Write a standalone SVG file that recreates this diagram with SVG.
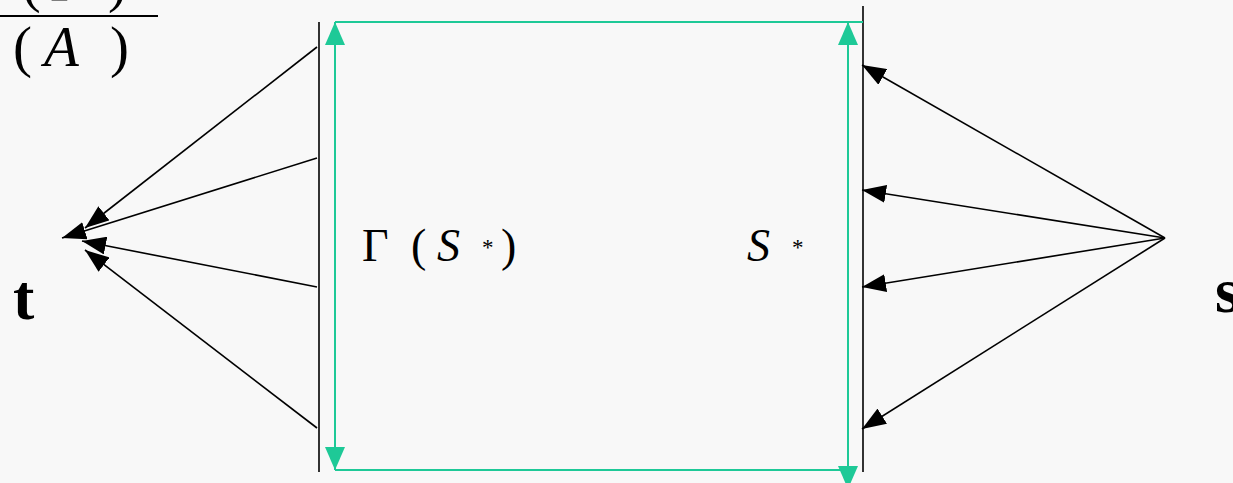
<svg xmlns="http://www.w3.org/2000/svg" width="1233" height="483" viewBox="0 0 1233 483">
  <style>
    .blk { stroke: #000; stroke-width: 1.6; fill: none; }
    .grn { stroke: #1ec997; stroke-width: 2; fill: none; }
    .serif { font-family: "Liberation Serif", "Times New Roman", serif; fill: #000; }
    .it { font-style: italic; }
    .bold { font-weight: bold; }
  </style>
  <defs>
    <marker id="ah" viewBox="0 0 24 18" refX="24" refY="9" markerWidth="24" markerHeight="18" markerUnits="userSpaceOnUse" orient="auto">
      <path d="M0,0 L24,9 L0,18 z" fill="#000"/>
    </marker>
    <marker id="gh" viewBox="0 0 23 20" refX="23" refY="10" markerWidth="23" markerHeight="20" markerUnits="userSpaceOnUse" orient="auto-start-reverse">
      <path d="M0,0 L23,10 L0,20 z" fill="#1ec997"/>
    </marker>
  </defs>
  <rect width="1233" height="483" fill="#f8f8f8"/>

  <g id="fraction">
    <text class="serif" x="22" y="1" font-size="56">(</text>
    <text class="serif" x="50" y="1" font-size="56">Γ</text>
    <text class="serif" x="108" y="1" font-size="56">)</text>
    <line x1="0" y1="16" x2="158" y2="16" stroke="#000" stroke-width="2.2"/>
    <text class="serif" x="13" y="66" font-size="57">(</text>
    <text class="serif it" x="44" y="66" font-size="57">A</text>
    <text class="serif" x="110" y="66" font-size="57">)</text>
  </g>

  <g id="node-t">
    <text class="serif bold" x="13" y="319" font-size="64">t</text>
  </g>
  <g id="node-s">
    <text class="serif bold" x="1215" y="312" font-size="64">s</text>
  </g>

  <g id="node-gamma-s">
    <line class="blk" x1="319" y1="22" x2="319" y2="472"/>
    <text class="serif" x="362" y="261" font-size="46">Γ</text>
    <text class="serif" x="411" y="261" font-size="46">(</text>
    <text class="serif it" x="437" y="261" font-size="46">S</text>
    <text class="serif" x="482" y="255" font-size="23">*</text>
    <text class="serif" x="501" y="261" font-size="46">)</text>
  </g>

  <g id="node-s-star">
    <line class="blk" x1="863" y1="6" x2="863" y2="472"/>
    <text class="serif it" x="747" y="261" font-size="46">S</text>
    <text class="serif" x="792" y="255" font-size="23">*</text>
  </g>

  <g id="connectors">
    <line class="grn" x1="335" y1="22" x2="863" y2="22"/>
    <line class="grn" x1="335" y1="470" x2="848" y2="470"/>
    <path class="grn" d="M335,470 L335,22" marker-start="url(#gh)" marker-end="url(#gh)"/>
    <path class="grn" d="M848,489 L848,22" marker-start="url(#gh)" marker-end="url(#gh)"/>

    <line class="blk" x1="317" y1="47" x2="85" y2="228" marker-end="url(#ah)"/>
    <line class="blk" x1="317" y1="158" x2="62" y2="238" marker-end="url(#ah)"/>
    <line class="blk" x1="317" y1="287" x2="82" y2="241" marker-end="url(#ah)"/>
    <line class="blk" x1="317" y1="428" x2="85" y2="250" marker-end="url(#ah)"/>

    <line class="blk" x1="1165" y1="238" x2="862" y2="65" marker-end="url(#ah)"/>
    <line class="blk" x1="1165" y1="238" x2="862" y2="190" marker-end="url(#ah)"/>
    <line class="blk" x1="1165" y1="238" x2="862" y2="287" marker-end="url(#ah)"/>
    <line class="blk" x1="1165" y1="238" x2="862" y2="429" marker-end="url(#ah)"/>
  </g>
</svg>
